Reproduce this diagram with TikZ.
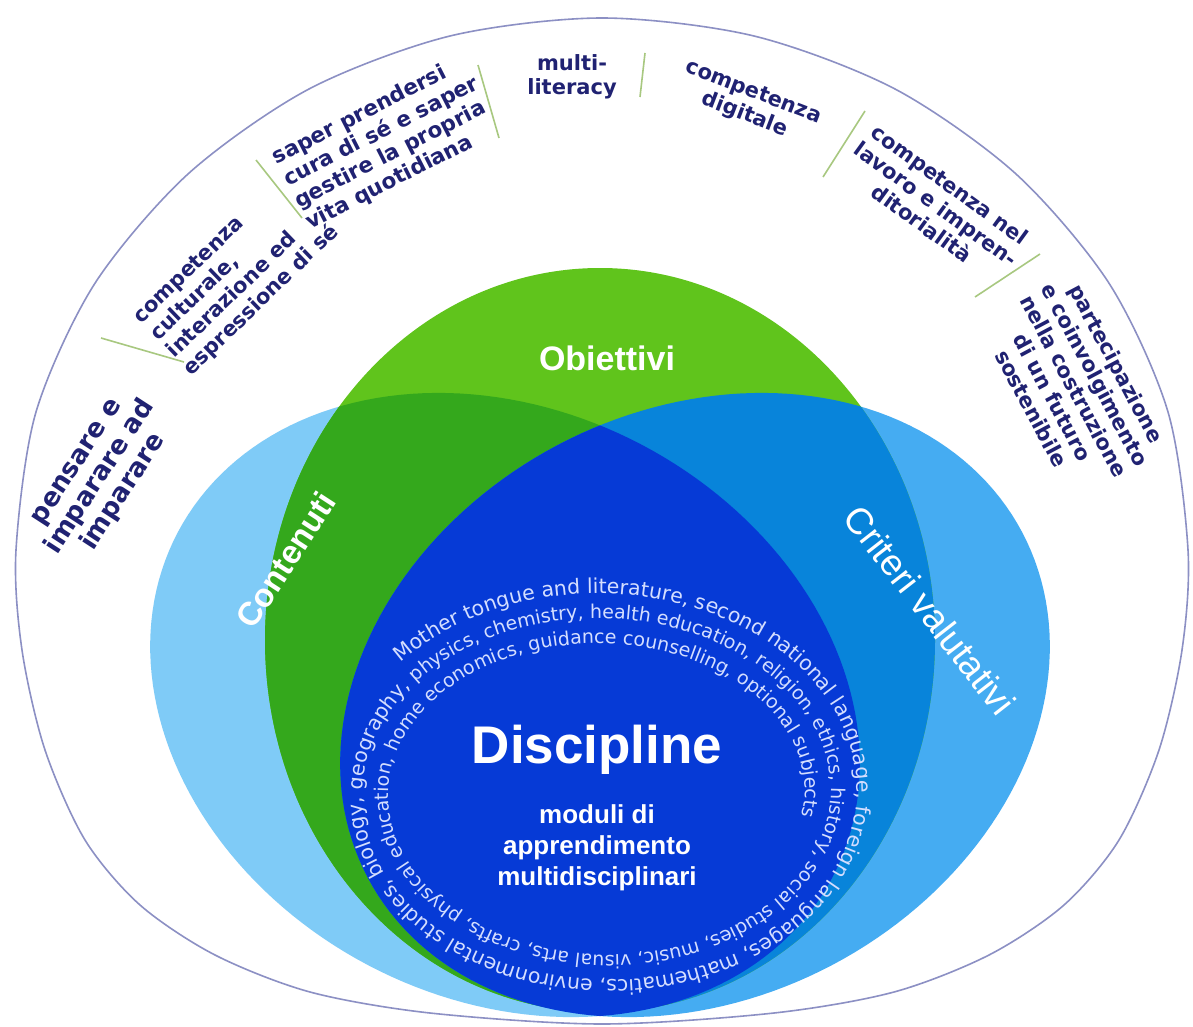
\documentclass[tikz,border=0pt]{standalone}
\usepackage{fontspec}
\setmainfont{DejaVu Sans}
\newfontfamily\arialf{Liberation Sans}
\usetikzlibrary{decorations.text}
\definecolor{cL}{HTML}{7FCBF7}
\definecolor{cR}{HTML}{45ACF2}
\definecolor{cG}{HTML}{60C41C}
\definecolor{cLG}{HTML}{34A81C}
\definecolor{cRG}{HTML}{0884DA}
\definecolor{cD}{HTML}{063AD6}
\definecolor{navy}{HTML}{202272}
\definecolor{sepc}{HTML}{A8C880}
\definecolor{rim}{HTML}{8C90C4}
\definecolor{spiralc}{HTML}{D4DEFF}
\newcommand\vennL{plot[domain=0:360,samples=181,variable=\ang] ({505+370*cos(\ang)*cos(27.8)+294*sin(\ang)*sin(27.8)},{-705-370*cos(\ang)*sin(27.8)+294*sin(\ang)*cos(27.8)}) -- cycle}
\newcommand\vennR{plot[domain=0:360,samples=181,variable=\ang] ({695+370*cos(\ang)*cos(27.8)-294*sin(\ang)*sin(27.8)},{-705+370*cos(\ang)*sin(27.8)+294*sin(\ang)*cos(27.8)}) -- cycle}
\newcommand\vennG{(600,-640) ellipse [x radius=335, y radius=372]}
\begin{document}
\begin{tikzpicture}[x=1pt,y=1pt,
  lbl/.style={text=navy, font=\bfseries\fontsize{21}{24}\selectfont, inner sep=0pt},
  sepline/.style={draw=sepc, line width=1.6pt},
  venn/.style={text=white, font=\arialf\bfseries\fontsize{34}{36}\selectfont, inner sep=0pt}]
\fill[white] (0,0) rectangle (1193,-1027);
\useasboundingbox (0,0) rectangle (1193,-1027);
% outer rim
\draw[rim, line width=1.6pt] plot[smooth cycle] coordinates {
 (602,-18) (754,-36) (895,-89) (1016,-174) (1109.5,-284) (1168,-412) (1188,-550)
 (1182,-650) (1159,-750) (1119,-840) (1064,-905) (989,-955) (894,-992) (774,-1013) (602,-1024)
 (430,-1013) (310,-992) (215,-955) (140,-905) (85,-840) (45,-750) (22,-650)
 (16,-550) (36,-412) (94.5,-284) (188,-174) (309,-89) (450,-36)};
% venn regions
\fill[cL] \vennL;
\fill[cR] \vennR;
\fill[cG] \vennG;
\begin{scope}
 \clip \vennG;
 \fill[cLG] \vennL;
 \fill[cRG] \vennR;
\end{scope}
\begin{scope}
 \clip \vennL;
 \fill[cD] \vennR;
\end{scope}
% spiral text
\path[decorate, decoration={text along path, text color=spiralc,
  text={|\fontsize{20.5}{22}\selectfont|Mother tongue and literature, second national language, foreign languages, mathematics, environmental studies, biology, geography, |\fontsize{19}{20}\selectfont|physics, chemistry, health education, religion, ethics, history, social studies, music, visual arts, crafts, physical education, home economics, guidance counselling, optional subjects}}]
 plot[domain=0:2.75, samples=550, variable=\s] ({603+(264-26*\s)*cos(140-360*\s)}, {-793+(203-25*\s)*sin(140-360*\s)});
% separators
\draw[sepline] (101,-338) -- (184,-362);
\draw[sepline] (256,-160) -- (302,-218);
\draw[sepline] (478,-65) -- (499,-138);
\draw[sepline] (645,-53) -- (640,-97);
\draw[sepline] (865,-111) -- (823,-177);
\draw[sepline] (1040,-254) -- (975,-297);
% outer labels
\node[lbl, font=\bfseries\fontsize{26}{28}\selectfont, align=center, rotate=57] (pens) at (102,-478) {pensare e\\imparare ad\\imparare};
\node[lbl, align=left, rotate=44] (cult) at (237,-275) {competenza\\culturale,\\interazione ed\\espressione di sé};
\node[lbl, font=\bfseries\fontsize{21.5}{24.5}\selectfont, align=left, rotate=27] (cura) at (387,-143) {saper prendersi\\cura di sé e saper\\gestire la propria\\vita quotidiana};
\node[lbl, align=center] (multi) at (572,-77) {multi-\\literacy};
\node[lbl, align=center, rotate=-21] (digi) at (749,-104) {competenza\\digitale};
\node[lbl, align=center, rotate=-36] (lav) at (936,-204) {competenza nel\\lavoro e impren-\\ditorialità};
\node[lbl, align=center, rotate=-62] (part) at (1074,-386) {partecipazione\\e coinvolgimento\\nella costruzione\\di un futuro\\sostenibile};
% venn labels
\node[venn] (obj) at (607,-358) {Obiettivi};
\node[venn, font=\arialf\bfseries\fontsize{33}{36}\selectfont, rotate=57] (cont) at (286,-560) {Contenuti};
\node[venn, font=\arialf\fontsize{37}{40}\selectfont, rotate=-52] (crit) at (930,-610) {Criteri valutativi};
\node[venn, font=\arialf\bfseries\fontsize{53}{57}\selectfont] (disc) at (597,-750) {Discipline};
\node[venn, font=\arialf\bfseries\fontsize{26}{31}\selectfont, align=center] (mod) at (597,-848) {moduli di\\apprendimento\\multidisciplinari};
\end{tikzpicture}
\end{document}
